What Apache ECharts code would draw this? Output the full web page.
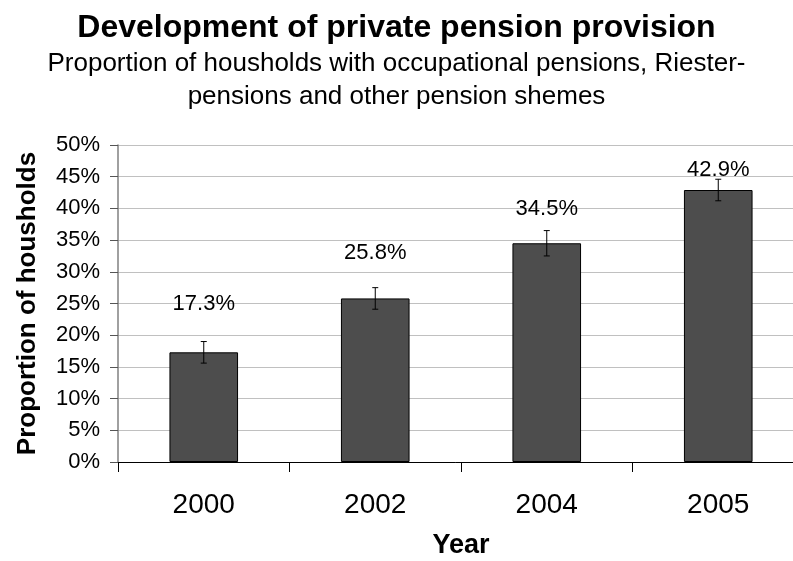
<!DOCTYPE html>
<html>
<head>
<meta charset="utf-8">
<script src="https://cdn.jsdelivr.net/npm/echarts@6/dist/echarts.min.js"></script>
<style>
  html, body { margin: 0; padding: 0; background: #fff; }
  #chart { width: 793px; height: 561px; }
</style>
</head>
<body>
<div id="chart"></div>
<script>
const years = ['2000', '2002', '2004', '2005']
const shares = [17.3, 25.8, 34.5, 42.9]
const errLow = [15.6, 24.1, 32.5, 41.2]
const errHigh = [19.0, 27.5, 36.5, 44.6]
const yTicks = [0, 5, 10, 15, 20, 25, 30, 35, 40, 45, 50]

// how far each value label floats above its bar (px)
const labelGap = [37, 34, 23, 9]

const font = '"Liberation Sans", Arial, sans-serif'

const chart = echarts.init(document.getElementById('chart'), null, { renderer: 'canvas' })

chart.setOption({
  animation: false,
  textStyle: { fontFamily: font },
  title: [
    {
      text: 'Development of private pension provision',
      left: 'center',
      top: 12,
      padding: 0,
      textStyle: { fontFamily: font, fontSize: 32, fontWeight: 'bold', color: '#000' }
    },
    {
      text: 'Proportion of housholds with occupational pensions, Riester-\npensions and other pension shemes',
      left: 'center',
      top: 47,
      padding: 0,
      textStyle: { fontFamily: font, fontSize: 26, fontWeight: 'normal', color: '#000', lineHeight: 33 }
    }
  ],
  grid: { left: 118, top: 145, width: 686, height: 317, outerBoundsMode: 'none', containLabel: false },
  xAxis: {
    type: 'category',
    data: years,
    name: 'Year',
    nameLocation: 'middle',
    nameGap: 70,
    nameTextStyle: { fontFamily: font, fontSize: 27, fontWeight: 'bold', color: '#000' },
    axisLine: { lineStyle: { color: '#000', width: 1 } },
    axisTick: { show: true, length: 10, lineStyle: { color: '#000' } },
    axisLabel: { color: '#000', fontSize: 28, margin: 29, fontFamily: font }
  },
  yAxis: {
    type: 'value',
    min: 0,
    max: 50,
    interval: 5,
    name: 'Proportion of housholds',
    nameLocation: 'middle',
    nameGap: 77,
    nameTextStyle: { fontFamily: font, fontSize: 26, fontWeight: 'bold', color: '#000' },
    axisLine: { show: true, lineStyle: { color: '#808080', width: 1.5 } },
    axisTick: { show: true, length: 8, lineStyle: { color: '#555' } },
    axisLabel: {
      color: '#000',
      fontSize: 22,
      margin: 18,
      fontFamily: font,
      formatter: v => (yTicks.includes(v) ? v + '%' : '')
    },
    splitLine: { lineStyle: { color: '#c0c0c0', width: 1 } }
  },
  series: [
    {
      type: 'bar',
      data: shares.map((v, i) => ({
        value: v,
        label: { distance: labelGap[i] }
      })),
      barWidth: '40%',
      itemStyle: { color: '#4d4d4d', borderColor: '#000', borderWidth: 1 },
      label: {
        show: true,
        position: 'top',
        color: '#000',
        fontSize: 22,
        fontFamily: font,
        formatter: p => p.value.toFixed(1) + '%'
      },
      z: 2
    },
    {
      type: 'custom',
      data: years.map((y, i) => [i, errLow[i], errHigh[i]]),
      renderItem(params, api) {
        const lo = api.coord([api.value(0), api.value(1)])
        const hi = api.coord([api.value(0), api.value(2)])
        const cap = 3
        const style = { stroke: '#000', lineWidth: 1 }
        return {
          type: 'group',
          children: [
            { type: 'line', shape: { x1: hi[0], y1: hi[1], x2: lo[0], y2: lo[1] }, style },
            { type: 'line', shape: { x1: hi[0] - cap, y1: hi[1], x2: hi[0] + cap, y2: hi[1] }, style },
            { type: 'line', shape: { x1: lo[0] - cap, y1: lo[1], x2: lo[0] + cap, y2: lo[1] }, style }
          ]
        }
      },
      z: 3
    }
  ]
})
</script>
</body>
</html>
